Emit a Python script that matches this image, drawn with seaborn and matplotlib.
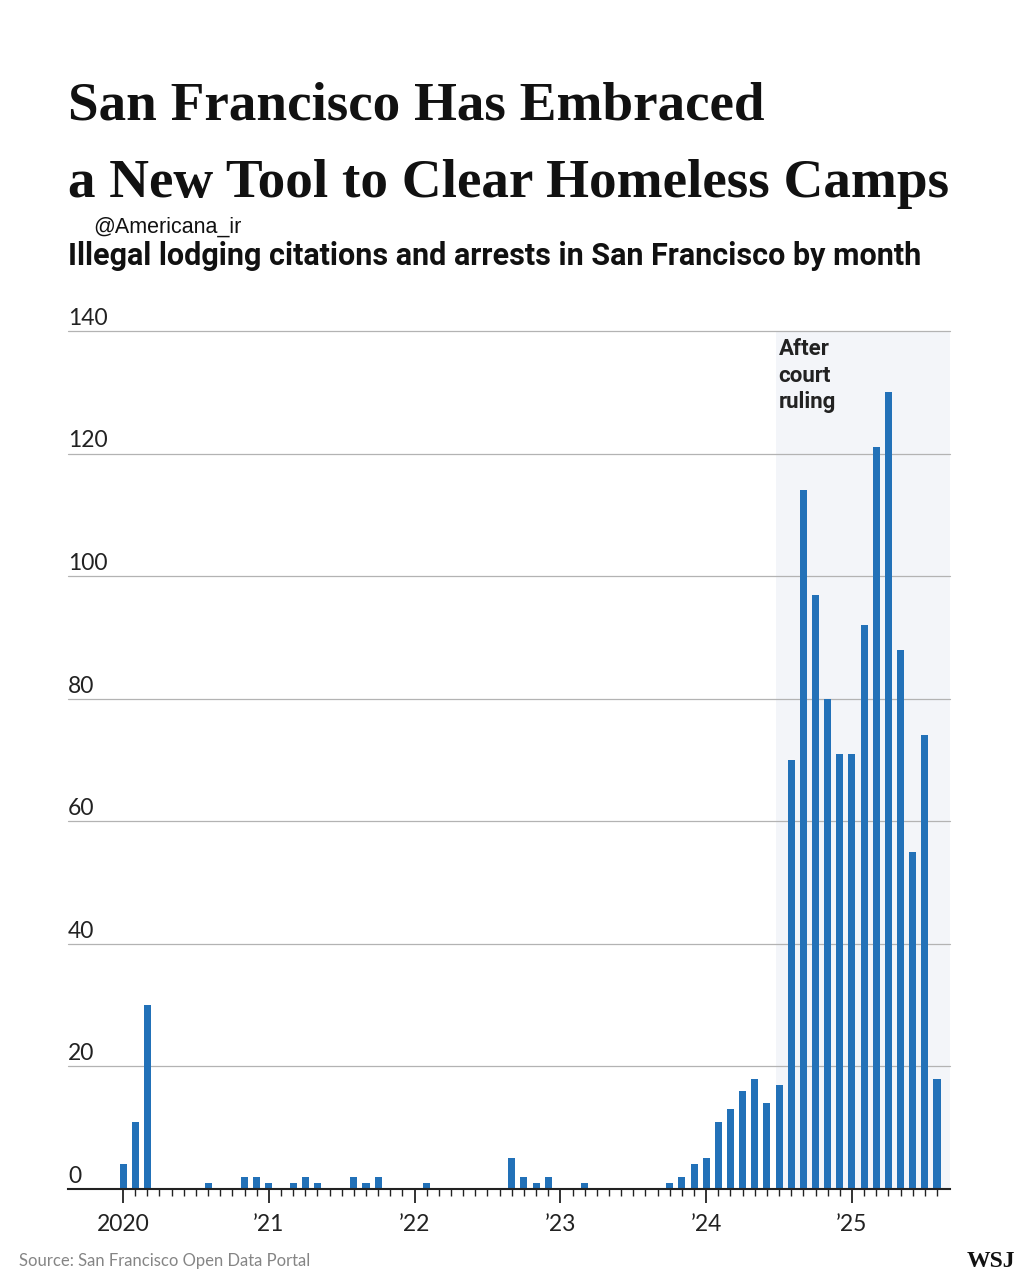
import matplotlib
matplotlib.use("Agg")
import matplotlib.pyplot as plt
import matplotlib.transforms as mtransforms
import seaborn as sns
import pandas as pd

# monthly counts, Jan 2020 .. Aug 2025
months = pd.date_range("2020-01-01", "2025-08-01", freq="MS").strftime("%Y-%m").tolist()
counts = [
    4, 11, 30, 0, 0, 0, 0, 1, 0, 0, 2, 2,        # 2020
    1, 0, 1, 2, 1, 0, 0, 2, 1, 2, 0, 0,          # 2021
    0, 1, 0, 0, 0, 0, 0, 0, 5, 2, 1, 2,          # 2022
    0, 0, 1, 0, 0, 0, 0, 0, 0, 1, 2, 4,          # 2023
    5, 11, 13, 16, 18, 14, 17, 70, 114, 97, 80, 71,  # 2024
    71, 92, 121, 130, 88, 55, 74, 18,            # 2025
]
year_labels = ["2020", "\u201921", "\u201922", "\u201923", "\u201924", "\u201925"]
y_ticks = [0, 20, 40, 60, 80, 100, 120, 140]
ruling_month = "2024-07"

df = pd.DataFrame({"month": months, "count": counts})

sns.set_theme(style="white")
plt.rcParams["font.family"] = ["Lato", "DejaVu Sans"]

bar_color = "#2271b8"
ink = "#222222"

fig = plt.figure(figsize=(10.24, 12.8), dpi=100)
ax = fig.add_axes([68 / 1024, 1 - 1189 / 1280, (950 - 68) / 1024, (1189 - 331) / 1280])

sns.barplot(data=df, x="month", y="count", order=months, color=bar_color,
            width=0.58, linewidth=0, saturation=1, ax=ax, zorder=3)

x_left, x_right = -4.53, 68.07
ax.set_xlim(x_left, x_right)
ax.set_ylim(0, 140)

# shaded period after the court ruling
start = months.index(ruling_month) - 0.25
ax.axvspan(start, x_right, color="#f3f5f9", zorder=0, lw=0)

# gridlines + labels above them
ax.set_yticks([])
off = mtransforms.offset_copy(ax.get_yaxis_transform(), fig=fig, x=0, y=1.5, units="points")
for v in y_ticks:
    if v > 0:
        ax.axhline(v, color="#b3b3b3", lw=0.9, zorder=1, clip_on=False)
    ax.text(0, v, str(v), transform=off, ha="left", va="bottom",
            fontsize=16.5, color=ink)

# x axis: monthly minor ticks, year majors
ax.set_xticks(range(0, len(months), 12))
ax.set_xticklabels(year_labels, fontsize=16.5, color=ink)
ax.set_xticks(range(len(months)), minor=True)
ax.tick_params(axis="x", which="major", length=10, width=1.3, color=ink, pad=8, bottom=True)
ax.tick_params(axis="x", which="minor", length=5, width=1.0, color=ink, bottom=True)
ax.set_xlabel("")
ax.set_ylabel("")

for s in ["top", "left", "right"]:
    ax.spines[s].set_visible(False)
ax.spines["bottom"].set_color(ink)
ax.spines["bottom"].set_linewidth(1.5)
ax.spines["bottom"].set_zorder(4)

ax.text(start + 0.2, 138.8, "After\ncourt\nruling", ha="left", va="top",
        fontsize=16, fontweight="bold", color=ink, linespacing=1.25,
        family=["Roboto", "DejaVu Sans"])

# titles, sized so the second line spans the chart width
title_kw = dict(ha="left", va="baseline", fontweight="bold", color="#111111",
                family=["Liberation Serif", "DejaVu Serif"])
t2 = fig.text(68 / 1024, 1 - 197 / 1280, "a New Tool to Clear Homeless Camps", fontsize=40, **title_kw)
fig.canvas.draw()
w = t2.get_window_extent().width
size = 40 * (947 - 68) / w
t2.set_fontsize(size)
fig.text(68 / 1024, 1 - 120 / 1280, "San Francisco Has Embraced", fontsize=size, **title_kw)

fig.text(93 / 1024, 1 - 227 / 1280, "@Americana_ir", ha="left", va="center",
         fontsize=15.5, color="#111111", family=["Liberation Sans", "DejaVu Sans"])
fig.text(68 / 1024, 1 - 256 / 1280,
         "Illegal lodging citations and arrests in San Francisco by month",
         ha="left", va="center", fontsize=22, fontweight="bold", color="#111111",
         family=["Roboto", "DejaVu Sans"])
fig.text(19 / 1024, 1 - 1261 / 1280, "Source: San Francisco Open Data Portal",
         ha="left", va="center", fontsize=12, color="#858585")
fig.text(1015 / 1024, 1 - 1267 / 1280, "WSJ", ha="right", va="baseline",
         fontsize=17, fontweight="bold", color="#111111",
         family=["Liberation Serif", "DejaVu Serif"])

fig.savefig("out.png", dpi=100, facecolor="white")
